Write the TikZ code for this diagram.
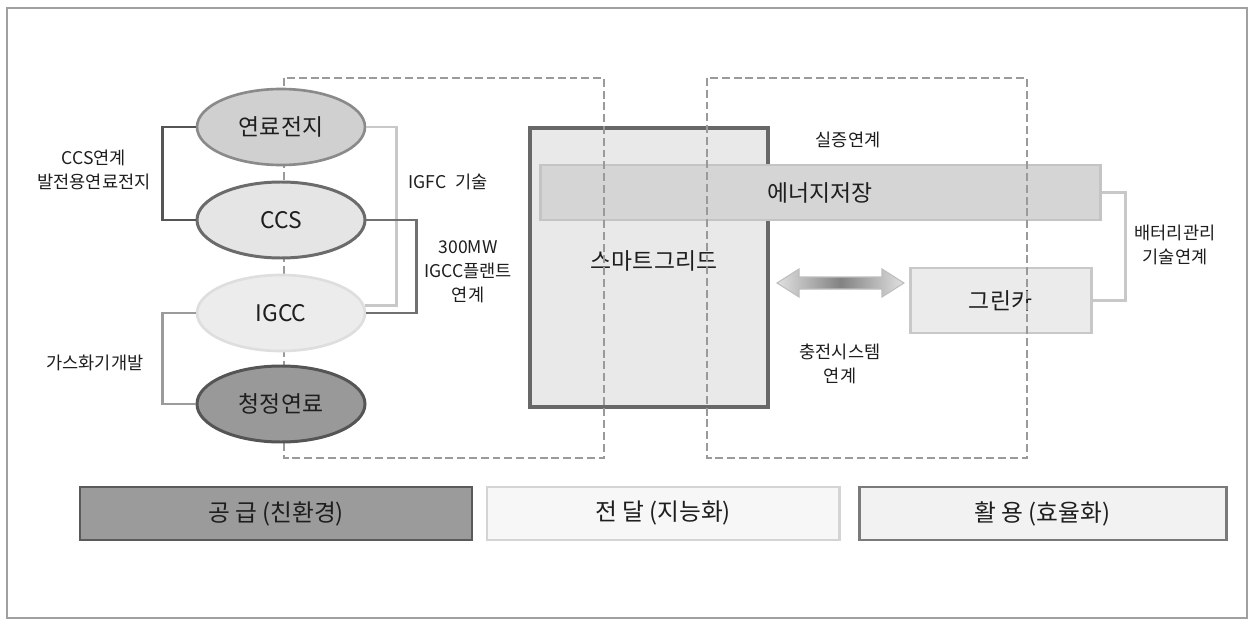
\documentclass[tikz,border=0pt]{standalone}
\usepackage{fontspec}
\setmainfont{Noto Sans CJK KR}
\usetikzlibrary{shapes.geometric}
\definecolor{frameC}{HTML}{A0A0A0}
\definecolor{dashC}{HTML}{9A9A9A}
\definecolor{txtC}{HTML}{1E1E1E}
\definecolor{sgD}{HTML}{686868}
\definecolor{sgF}{HTML}{E9E9E9}
\definecolor{esD}{HTML}{C4C4C4}
\definecolor{esF}{HTML}{D5D5D5}
\definecolor{gcD}{HTML}{C8C8C8}
\definecolor{gcF}{HTML}{EBEBEB}
\definecolor{arE}{HTML}{E1E1E1}
\definecolor{arM}{HTML}{828282}
\definecolor{arD}{HTML}{BEBEBE}
\definecolor{fcD}{HTML}{8A8A8A}
\definecolor{fcF}{HTML}{D0D0D0}
\definecolor{ccD}{HTML}{6B6B6B}
\definecolor{ccF}{HTML}{E5E5E5}
\definecolor{igD}{HTML}{DEDEDE}
\definecolor{igF}{HTML}{ECECEC}
\definecolor{cfD}{HTML}{555555}
\definecolor{cfF}{HTML}{999999}
\definecolor{lnA}{HTML}{555555}
\definecolor{lnB}{HTML}{9B9B9B}
\definecolor{lnC}{HTML}{C8C8C8}
\definecolor{lnD}{HTML}{707070}
\definecolor{b1D}{HTML}{5A5A5A}
\definecolor{b1F}{HTML}{9B9B9B}
\definecolor{b2D}{HTML}{D4D4D4}
\definecolor{b2F}{HTML}{F7F7F7}
\definecolor{b3D}{HTML}{7A7A7A}
\definecolor{b3F}{HTML}{F2F2F2}
\newcommand\fsBig{\fontsize{13}{15}\selectfont}
\newcommand\fsBot{\fontsize{13.5}{15}\selectfont}
\newcommand\fsSmall{\fontsize{10}{13.6}\selectfont}
\newdimen\pgfxx \pgfxx=0.02cm
\tikzset{
  every node/.style={text=txtC},
  ell/.style={ellipse, minimum width=168\pgfxx, minimum height=76\pgfxx, inner sep=0pt, font=\fsBig},
  lbl/.style={font=\fsSmall, align=center, inner sep=0pt},
  dashbox/.style={draw=dashC, line width=1.4pt, dash pattern=on 4.5pt off 2.2pt},
  boxS/.style={rectangle, inner sep=0pt, font=\fsBig},
}
\begin{document}
\begin{tikzpicture}[x=0.02cm,y=-0.02cm]
\useasboundingbox (0,0) rectangle (1254,625);
\fill[white] (0,0) rectangle (1254,625);
\draw[frameC, line width=0.9pt] (7,8) rectangle (1247,618);

% smart grid
\node[boxS, draw=sgD, line width=2.3pt, fill=sgF,
  minimum width=238\pgfxx, minimum height=279\pgfxx] (sg) at (649,267.5) {};
\node[font=\fsBig] (sgt) at (654,261) {스마트그리드};
% energy storage bar
\node[boxS, draw=esD, line width=1.7pt, fill=esF,
  minimum width=560\pgfxx, minimum height=55\pgfxx] (es) at (820,192.5) {에너지저장};
% green car
\node[boxS, draw=gcD, line width=1.7pt, fill=gcF,
  minimum width=181\pgfxx, minimum height=65\pgfxx] (gc) at (1000.5,300.5) {그린카};
\draw[lnC, line width=1.5pt] (es.east) -- ++(24,0) |- (gc.east);

% double arrow
\shadedraw[draw=arD, line width=0.6pt,
  left color=arE, right color=arE, middle color=arM]
  (777,283) -- (799,269) -- (799,277) -- (882,277) -- (882,269) -- (904,283)
  -- (882,297) -- (882,289) -- (799,289) -- (799,297) -- cycle;

% dashed boxes
\draw[dashbox] (284,78) rectangle (604,458);
\draw[dashbox] (707,78) rectangle (1027,458);

% ellipses
\node[ell, draw=fcD, line width=1.5pt, fill=fcF] (fc) at (281,127) {연료전지};
\node[ell, draw=ccD, line width=1.7pt, fill=ccF] (ccs) at (281,220) {CCS};
\node[ell, draw=igD, line width=1.5pt, fill=igF] (igcc) at (281,313) {IGCC};
\node[ell, draw=cfD, line width=1.7pt, fill=cfF] (cf) at (281,404) {청정연료};

% connectors
\draw[lnA, line width=1.6pt] (fc.west) -- ++(-33,0) |- (ccs.west);
\draw[lnB, line width=1.4pt] (igcc.west) -- ++(-33,0) |- (cf.west);
\draw[lnC, line width=1.6pt] (fc.east) -- ++(30,0) |- (igcc.5);
\draw[lnD, line width=1.4pt] (ccs.east) -- ++(50,0) |- (igcc.east);

% labels
\node[lbl] (l1) at (94,170) {CCS연계\\발전용연료전지};
\node[lbl] (l2) at (95,363) {가스화기개발};
\node[lbl] (l3) at (448,182) {IGFC\enspace 기술};
\node[lbl] (l4) at (468,272) {300MW\\IGCC플랜트\\연계};
\node[lbl] (l5) at (848,140) {실증연계};
\node[lbl] (l6) at (1175,245) {배터리관리\\기술연계};
\node[lbl] (l7) at (840,364) {충전시스템\\연계};

% bottom boxes
\node[boxS, font=\fsBot, draw=b1D, line width=1.7pt, fill=b1F,
  minimum width=392\pgfxx, minimum height=53\pgfxx] (b1) at (276,513.5) {공 급 (친환경)};
\node[boxS, font=\fsBot, draw=b2D, line width=1.7pt, fill=b2F,
  minimum width=352\pgfxx, minimum height=53\pgfxx] (b2) at (663,513.5) {전 달 (지능화)};
\node[boxS, font=\fsBot, draw=b3D, line width=1.7pt, fill=b3F,
  minimum width=367\pgfxx, minimum height=53\pgfxx] (b3) at (1042.5,513.5) {활 용 (효율화)};
\end{tikzpicture}
\end{document}
